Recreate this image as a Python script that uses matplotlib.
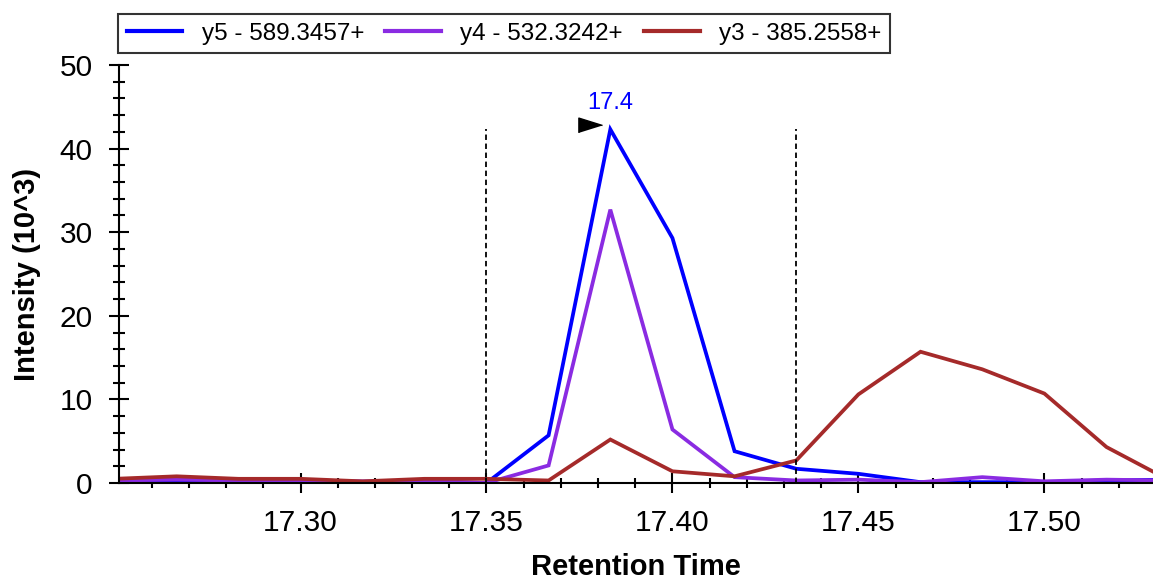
import matplotlib
matplotlib.use("Agg")
import matplotlib.pyplot as plt
from matplotlib.ticker import MultipleLocator, FormatStrFormatter
from matplotlib.transforms import ScaledTranslation

plt.rcParams['font.family'] = ['Liberation Sans', 'DejaVu Sans']

# retention times (min)
rt = [17.2500, 17.2667, 17.2833, 17.3000, 17.3167, 17.3333, 17.3500, 17.3667, 17.3833,
      17.4000, 17.4167, 17.4333, 17.4500, 17.4667, 17.4833, 17.5000, 17.5167, 17.5333]

# intensities (10^3)
y5 = [0.15, 0.2, 0.15, 0.15, 0.1, 0.15, 0.0, 5.7, 42.3, 29.3, 3.8, 1.7, 1.1, 0.1, 0.1, 0.1, 0.3, 0.4]
y4 = [0.3, 0.4, 0.3, 0.3, 0.2, 0.3, 0.0, 2.1, 32.7, 6.4, 0.7, 0.3, 0.4, 0.1, 0.7, 0.2, 0.4, 0.3]
y3 = [0.5, 0.8, 0.5, 0.5, 0.2, 0.5, 0.5, 0.3, 5.2, 1.4, 0.8, 2.7, 10.6, 15.7, 13.6, 10.7, 4.3, 0.4]

labels = ["y5 - 589.3457+", "y4 - 532.3242+", "y3 - 385.2558+"]
colors = ["#0000FF", "#8A2BE2", "#A52A2A"]

# integration boundaries and peak
bounds = [17.3500, 17.4333]
peak_rt = 17.3833
peak_label = "17.4"

fig = plt.figure(figsize=(11.53, 5.81), dpi=100)
ax = fig.add_axes([119 / 1153, 1 - 483 / 581, 1 - 119 / 1153, (483 - 65) / 581])

for ys, lab, c in zip([y5, y4, y3], labels, colors):
    ax.plot(rt, ys, color=c, lw=2.7, label=lab, solid_joinstyle='miter')

peak_y = max(y5)
ax.vlines(bounds, 0, peak_y, colors='black', linestyles=(0, (3, 2)), lw=1.3)

# peak marker triangle + label
tri = [(-1.6, -0.5), (-1.6, 0.5), (0, 0)]
ax.plot([peak_rt], [peak_y], marker=tri, ms=34, color='black', ls='none',
        transform=ax.transData + ScaledTranslation(-0.08, 0.04, fig.dpi_scale_trans),
        clip_on=False)
ax.annotate(peak_label, (peak_rt, peak_y), xytext=(0, 11), textcoords='offset points',
            ha='center', va='bottom', color='#0000FF', fontsize=17)

ax.set_xlim(17.2512, 17.5292)
ax.set_ylim(0, 50)

ax.xaxis.set_major_locator(MultipleLocator(0.05))
ax.xaxis.set_minor_locator(MultipleLocator(0.01))
ax.xaxis.set_major_formatter(FormatStrFormatter('%.2f'))
ax.yaxis.set_major_locator(MultipleLocator(10))
ax.yaxis.set_minor_locator(MultipleLocator(2))

ax.tick_params(which='major', direction='inout', length=14, width=1.5, labelsize=21.5, pad=12)
ax.tick_params(which='minor', direction='inout', length=7, width=1.5)
ax.tick_params(axis='y', which='minor', length=8)

for s in ['top', 'right']:
    ax.spines[s].set_visible(False)
for s in ['left', 'bottom']:
    ax.spines[s].set_linewidth(1.5)

ax.set_xlabel("Retention Time", fontsize=21, fontweight='bold', labelpad=11)
ax.set_ylabel("Intensity (10^3)", fontsize=21, fontweight='bold', labelpad=13)

leg = fig.legend(loc='upper left', bbox_to_anchor=(118 / 1153, 1 - 14 / 581), ncol=3,
                 fontsize=17.5, frameon=True, fancybox=False, borderaxespad=0,
                 handlelength=2.3, handletextpad=0.8, columnspacing=0.85,
                 borderpad=0.35)
leg.get_frame().set_edgecolor('black')
leg.get_frame().set_linewidth(1.5)
for ln in leg.get_lines():
    ln.set_linewidth(3)

fig.savefig("out.png", dpi=100)
